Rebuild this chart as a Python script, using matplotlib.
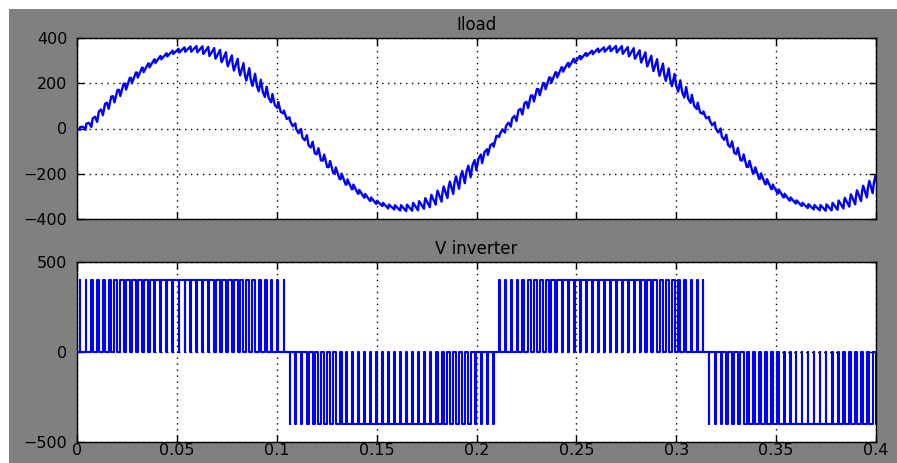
import numpy as np
import matplotlib
matplotlib.use("Agg")
import matplotlib.pyplot as plt
from matplotlib.patches import Rectangle

# PWM carrier period (s) and inverter DC level (V)
carrier = 0.003
v_level = 400

# signed duty of each PWM period
v_duty = [
    0.06, 0.14, 0.21, 0.29, 0.36, 0.43, 0.50, 0.56, 0.62, 0.68, 0.72, 0.77,
    0.80, 0.83, 0.86, 0.87, 0.88, 0.88, 0.88, 0.87, 0.86, 0.83, 0.80, 0.77,
    0.72, 0.68, 0.62, 0.56, 0.50, 0.43, 0.36, 0.29, 0.21, 0.14, 0.06,
    -0.07, -0.13, -0.22, -0.28, -0.37, -0.42, -0.51, -0.55, -0.63, -0.67, -0.73, -0.76,
    -0.81, -0.83, -0.85, -0.88, -0.87, -0.89, -0.88, -0.86, -0.86, -0.82, -0.81, -0.76,
    -0.73, -0.67, -0.63, -0.55, -0.51, -0.42, -0.37, -0.28, -0.22, -0.13, -0.07,
    0.05, 0.15, 0.20, 0.30, 0.35, 0.44, 0.49, 0.57, 0.61, 0.69, 0.71, 0.78,
    0.79, 0.84, 0.85, 0.88, 0.87, 0.89, 0.87, 0.88, 0.85, 0.84, 0.79, 0.78,
    0.71, 0.69, 0.61, 0.57, 0.49, 0.44, 0.35, 0.30, 0.20, 0.15, 0.05,
    -0.06, -0.14, -0.21, -0.29, -0.36, -0.43, -0.50, -0.56, -0.62, -0.68, -0.72, -0.77,
    -0.80, -0.83, -0.86, -0.87, -0.88, -0.88, -0.88, -0.87, -0.86, -0.83, -0.80, -0.77,
    -0.72, -0.68, -0.62, -0.56, -0.50,
]

# load current at the start of each PWM period (A)
i_load = [
    0, 8, 25, 52, 84, 114, 143, 171, 198, 224, 247, 268,
    288, 305, 319, 331, 341, 347, 351, 352, 350, 345, 338, 328,
    315, 299, 282, 262, 239, 215, 190, 162, 134, 104, 73,
    42, 10, -21, -52, -84, -114, -143, -171, -198, -224, -247, -268,
    -288, -305, -319, -331, -341, -347, -351, -352, -350, -345, -338, -328,
    -315, -299, -282, -262, -239, -215, -190, -162, -134, -104, -73,
    -32, -4, 26, 56, 87, 118, 147, 174, 200, 225, 248, 270,
    290, 306, 320, 332, 341, 348, 352, 353, 350, 345, 337, 327,
    314, 298, 280, 260, 238, 214, 188, 160, 131, 100, 70,
    45, 14, -18, -50, -82, -113, -142, -170, -197, -222, -246, -267,
    -287, -304, -318, -330, -340, -346, -350, -351, -349, -344, -336, -326,
    -313, -297, -279, -259, -237,
]
ripple = 55  # peak-to-peak current ripple at 50 % duty

x_ticks = [0, 0.05, 0.1, 0.15, 0.2, 0.25, 0.3, 0.35, 0.4]
x_labels = ["0", "0.05", "0.1", "0.15", "0.2", "0.25", "0.3", "0.35", "0.4"]
i_ticks = [-400, -200, 0, 200, 400]
v_ticks = [-500, 0, 500]

# build step traces
vt, vv, it, iv = [], [], [], []
for k, d in enumerate(v_duty):
    s = np.sign(d)
    d = abs(d)
    t0 = k * carrier
    t_on = t0 + (1 - d) / 2 * carrier
    t_off = t0 + (1 + d) / 2 * carrier
    vt += [t0, t_on, t_on, t_off, t_off]
    vv += [0, 0, s * v_level, s * v_level, 0]
    r = ripple * 4 * d * (1 - d)
    it += [t0, t_on, t_off]
    iv += [i_load[k], i_load[k] - s * r / 2, i_load[k] + s * r / 2]

gray = "#808080"
fig = plt.figure(figsize=(8.97, 4.63), dpi=100)
fig.patch.set_facecolor("white")
fig.add_artist(Rectangle((9 / 897, 0), 1, (463 - 9) / 463,
                         transform=fig.transFigure, facecolor=gray,
                         edgecolor="none", zorder=-10))

ax1 = fig.add_axes([77 / 897, (463 - 219) / 463, 799 / 897, 181 / 463])
ax2 = fig.add_axes([77 / 897, (463 - 442) / 463, 799 / 897, 180 / 463])

ax1.plot(it, iv, color="#0000ff", lw=1.7)
ax2.plot(vt, vv, color="#0000ff", lw=1.5)

ax1.set_ylim(-400, 400)
ax1.set_yticks(i_ticks)
ax2.set_ylim(-500, 500)
ax2.set_yticks(v_ticks)

for ax, title in [(ax1, "Iload"), (ax2, "V inverter")]:
    ax.set_xlim(0, 0.4)
    ax.set_xticks(x_ticks)
    ax.set_facecolor("white")
    ax.grid(True, color="black", linestyle=(0, (1, 3.3)), linewidth=1.0)
    ax.tick_params(direction="in", length=5, width=1, top=True, right=True,
                   labelsize=11.5, colors="black", pad=7)
    for sp in ax.spines.values():
        sp.set_linewidth(1.0)
        sp.set_color("black")
    ax.set_title(title, fontsize=12, color="black", pad=6)

ax1.set_xticklabels([])
ax2.set_xticklabels(x_labels)
ax2.tick_params(axis="x", pad=1)

fig.savefig("out.png", dpi=100, facecolor=fig.get_facecolor())
